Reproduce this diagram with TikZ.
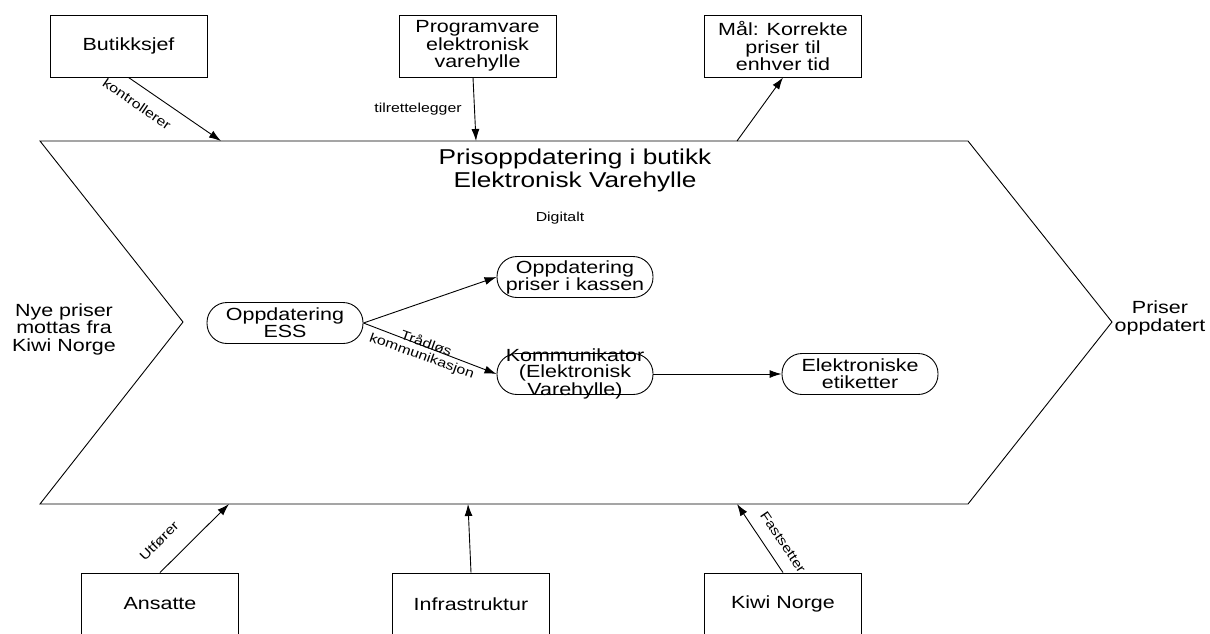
\documentclass[tikz,border=0pt]{standalone}
\usepackage{fontspec}
\setmainfont{Liberation Sans}[FakeStretch=1.22]
\usepackage{tikz}
\usetikzlibrary{arrows.meta}

\begin{document}
\begin{tikzpicture}[x=1pt, y=-1pt, line width=0.9pt,
    box/.style={draw, minimum width=157pt, minimum height=62pt, inner sep=0pt,
      align=center, font=\fontsize{17.6}{17.5}\selectfont},
    oval/.style={draw, rounded corners=20pt, minimum width=156pt, minimum height=41pt,
      inner sep=0pt, align=center, font=\fontsize{17.6}{17}\selectfont},
    txt/.style={align=center, font=\fontsize{17.6}{17.5}\selectfont},
    lbl/.style={inner sep=0pt, align=center, font=\fontsize{13}{13}\selectfont},
    pil/.style={-{Latex[length=12pt,width=8pt]}}]
        \useasboundingbox (0,0) rectangle (1210,633);
        % prosessen
        \draw (40,141) -- (968,141) -- (1112,322) -- (968,504) -- (40,504) -- (183,322) -- cycle;
        \node [txt, font=\fontsize{21.5}{23}\selectfont] (tittel) at (575,170) {Prisoppdatering i butikk\\Elektronisk Varehylle};
        \node [lbl] (digitalt) at (560,218) {Digitalt};
        \node [txt] (inn) at (64,329) {Nye priser\\mottas fra\\Kiwi Norge};
        \node [txt] (ut) at (1160,318) {Priser\\oppdatert};
        % styring og mekanismer
        \node [box] (sjef) at (128.5,46) {Butikksjef};
        \node [box] (prog) at (477.5,46) {Programvare\\elektronisk\\varehylle};
        \node [box] (maal) at (783,46) {Mål: Korrekte\\priser til\\enhver tid};
        \node [box] (ansatte) at (160,604) {Ansatte};
        \node [box] (infra) at (471,604) {Infrastruktur};
        \node [box] (kiwi) at (783,604) {Kiwi Norge};
        \coordinate (p1) at (221,141);
        \coordinate (p2) at (476,141);
        \coordinate (p3) at (737,141);
        \coordinate (p4) at (229,504);
        \coordinate (p5) at (468,504);
        \coordinate (p6) at (737,504);
        \draw [pil] (sjef.south) -- (p1);
        \draw [pil] (prog.south -| 473,0) -- (p2);
        \draw [pil] (p3) -- (maal.south);
        \draw [pil] (ansatte.north) -- (p4);
        \draw [pil] (infra.north) -- (p5);
        \draw [pil] (kiwi.north) -- (p6);
        \node [lbl, rotate=-34.5] (kontr) at (137,104) {kontrollerer};
        \node [lbl] (tilr) at (418,109) {tilrettelegger};
        \node [lbl, rotate=45] (utf) at (159,541) {Utfører};
        \node [lbl, rotate=-56] (fasts) at (783,542) {Fastsetter};
        % aktiviteter
        \node [oval] (ess) at (285,323) {Oppdatering\\ESS};
        \node [oval] (kasse) at (575,277) {Oppdatering\\priser i kassen};
        \node [oval, label={[txt, font=\fontsize{17.6}{16}\selectfont]center:Kommunikator\\(Elektronisk\\Varehylle)}] (komm) at (575,374) {};
        \node [oval] (etikett) at (860,374) {Elektroniske\\etiketter};
        \draw [pil] (ess.east) -- (kasse.west);
        \draw [pil] (ess.east) -- (komm.west);
        \draw [pil] (komm) -- (etikett);
        \node [lbl, rotate=-19.7] (traadlos) at (424,350) {Trådløs\\kommunikasjon};
\end{tikzpicture}
\end{document}
